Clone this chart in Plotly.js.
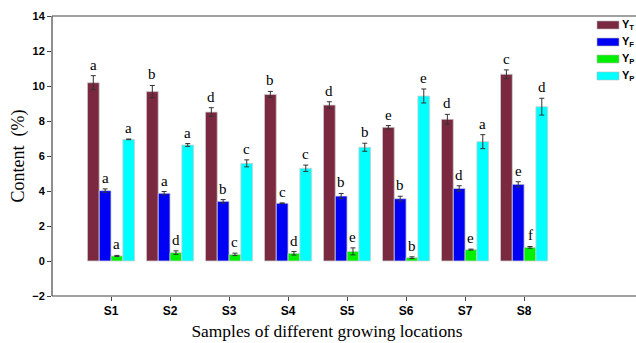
<!DOCTYPE html>
<html>
<head>
<meta charset="utf-8">
<script src="https://cdn.plot.ly/plotly-3.0.1.min.js"></script>
<style>
html,body{margin:0;padding:0;overflow:hidden;background:#fff;}
#chart{width:636px;height:343px;}
</style>
</head>
<body>
<div id="chart"></div>
<script>
var categories = ["S1","S2","S3","S4","S5","S6","S7","S8"];
var seriesNames = ["Y<sub>T</sub>","Y<sub>F</sub>","Y<sub>P</sub>","Y<sub>P</sub>"];
var yT = [10.19, 9.68, 8.51, 9.52, 8.91, 7.64, 8.10, 10.67];
var yTErr = [0.40, 0.35, 0.25, 0.17, 0.19, 0.10, 0.28, 0.25];
var yF = [4.02, 3.87, 3.41, 3.30, 3.71, 3.56, 4.15, 4.38];
var yFErr = [0.10, 0.10, 0.10, 0.02, 0.15, 0.14, 0.15, 0.15];
var yS = [0.29, 0.48, 0.38, 0.44, 0.55, 0.19, 0.65, 0.78];
var ySErr = [0.03, 0.10, 0.07, 0.10, 0.20, 0.05, 0.03, 0.05];
var yP = [6.95, 6.63, 5.58, 5.30, 6.50, 9.43, 6.82, 8.82];
var yPErr = [0.02, 0.08, 0.20, 0.18, 0.23, 0.40, 0.40, 0.48];
var lettersT = ["a","b","d","b","d","e","d","c"];
var lettersF = ["a","a","b","c","b","b","d","e"];
var lettersS = ["a","d","c","d","e","b","e","f"];
var lettersP = ["a","a","c","c","b","e","a","d"];

var colors = ["#7A2940","#0000F5","#00F000","#00FFFF"];
var values = [yT, yF, yS, yP];
var errs = [yTErr, yFErr, ySErr, yPErr];
var letters = [lettersT, lettersF, lettersS, lettersP];
var offsets = [-0.3, -0.1, 0.1, 0.3];
var xIdx = categories.map(function(_, i){ return i; });

var traces = values.map(function(v, k){
  return {
    type: "bar",
    name: seriesNames[k],
    x: xIdx,
    y: v,
    marker: {color: colors[k], line: {color: "#cfcfcf", width: 0.8}},
    error_y: {type: "data", array: errs[k], visible: true, color: "#333", thickness: 1, width: 2.5},
    hoverinfo: "y",
    cliponaxis: false
  };
});

var annotations = [];
values.forEach(function(v, k){
  v.forEach(function(val, i){
    annotations.push({
      x: i + offsets[k], xref: "x",
      y: val + errs[k][i], yref: "y",
      text: letters[k][i], showarrow: false,
      yanchor: "bottom", yshift: 1,
      font: {family: "Liberation Serif, serif", size: 15, color: "#000"}
    });
  });
});

// custom legend (wide swatches like the reference)
var plotL = 52, plotW = 550, plotT = 16, plotH = 280;
function px2x(p){ return (p - plotL) / plotW; }
function py2y(p){ return (plotT + plotH - p) / plotH; }
var shapes = [];
var legendRows = [25, 42, 59, 76];
seriesNames.forEach(function(name, k){
  var cy = legendRows[k];
  shapes.push({type: "rect", xref: "paper", yref: "paper",
    x0: px2x(597), x1: px2x(619), y0: py2y(cy + 4), y1: py2y(cy - 4),
    fillcolor: colors[k], line: {color: "#bbbbbb", width: 0.6}});
  annotations.push({xref: "paper", yref: "paper", x: px2x(620), y: py2y(cy),
    xanchor: "left", yanchor: "middle", showarrow: false, text: name,
    font: {family: "Liberation Sans, Arial, sans-serif", size: 11, color: "#000", weight: "bold"}});
});
// frame lines: top, bottom (extended to the page edge), left
shapes.push({type: "line", xref: "paper", yref: "paper", x0: 0, x1: px2x(636), y0: 1, y1: 1,
  line: {color: "#444", width: 1.2}});
shapes.push({type: "line", xref: "paper", yref: "paper", x0: 0, x1: px2x(636), y0: 0, y1: 0,
  line: {color: "#444", width: 1.2}});
shapes.push({type: "line", xref: "paper", yref: "paper", x0: 0, x1: 0, y0: 0, y1: 1,
  line: {color: "#444", width: 1.2}});

var layout = {
  width: 636, height: 343,
  margin: {l: 52, r: 34, t: 16, b: 47},
  paper_bgcolor: "#fff", plot_bgcolor: "#fff",
  barmode: "group", bargap: 0.2, bargroupgap: 0,
  showlegend: false,
  xaxis: {
    range: [-1, 8.32], tickmode: "array", tickvals: xIdx, ticktext: categories,
    showgrid: false, zeroline: false, showline: false,
    ticks: "outside", ticklen: 4, tickcolor: "#444",
    tickfont: {family: "Liberation Sans, Arial, sans-serif", size: 12, color: "#000", weight: "bold"},
    title: {text: "Samples of different growing locations", standoff: 7,
            font: {family: "Liberation Serif, serif", size: 17.4, color: "#000"}}
  },
  yaxis: {
    range: [-2, 14], tickmode: "array", tickvals: [-2,0,2,4,6,8,10,12,14],
    showgrid: false, zeroline: false, showline: false,
    ticks: "outside", ticklen: 4, tickcolor: "#444",
    tickfont: {family: "Liberation Sans, Arial, sans-serif", size: 11, color: "#000", weight: "bold"},
    title: {text: "Content  (%)", standoff: 2,
            font: {family: "Liberation Serif, serif", size: 18, color: "#000"}}
  },
  shapes: shapes,
  annotations: annotations
};

Plotly.newPlot("chart", traces, layout, {displayModeBar: false, staticPlot: true});
</script>
</body>
</html>
